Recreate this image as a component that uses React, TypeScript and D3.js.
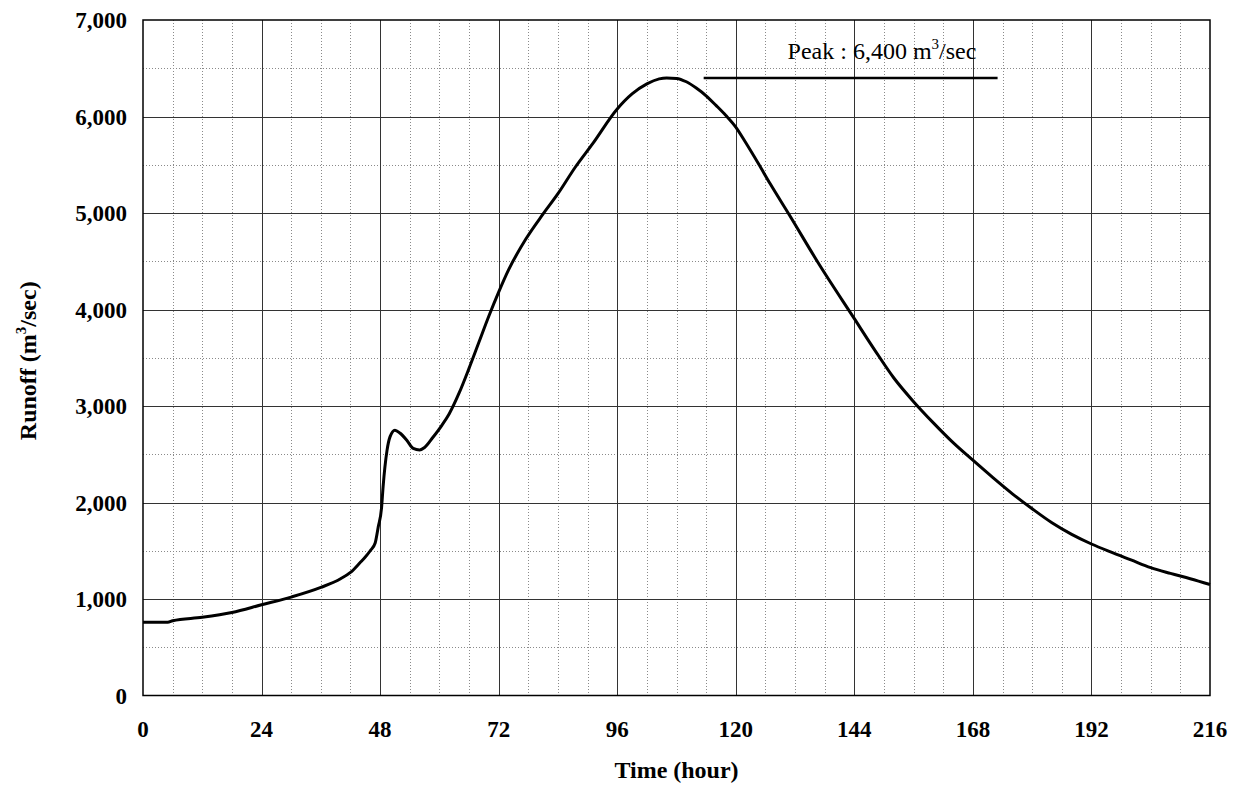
import React from 'react';
import * as d3 from 'd3';

// hydrograph (hour, m3/sec)
const hours = [0, 5, 6, 12, 18, 24, 30, 36, 40, 42, 44, 45, 46, 47, 47.6, 48.3, 48.6, 49.4, 50, 51, 52, 53.4, 54.7, 56, 57, 58.7, 60.5, 62, 64, 66, 68, 70, 72, 74, 77.5, 81, 84, 87.5, 91, 96, 99, 102, 104.5, 106, 108, 110, 112, 114, 116, 118, 120, 122, 124.6, 127, 130.7, 136.8, 144, 148, 152, 156, 160, 164, 168, 172, 176, 180, 184, 188, 192, 196, 200, 204, 208, 212, 216];
const runoff = [760, 760, 775, 810, 860, 940, 1020, 1120, 1210, 1275, 1380, 1435, 1500, 1580, 1740, 1950, 2160, 2540, 2680, 2750, 2720, 2645, 2560, 2545, 2570, 2676, 2800, 2920, 3135, 3390, 3660, 3930, 4180, 4410, 4730, 4990, 5200, 5474, 5716, 6078, 6234, 6338, 6390, 6400, 6395, 6360, 6295, 6215, 6115, 6010, 5890, 5730, 5510, 5300, 4992, 4474, 3905, 3590, 3290, 3045, 2825, 2620, 2438, 2260, 2090, 1935, 1790, 1670, 1570, 1485, 1405, 1325, 1265, 1210, 1150];

const xTicks = [0, 24, 48, 72, 96, 120, 144, 168, 192, 216];
const yTicks = [0, 1000, 2000, 3000, 4000, 5000, 6000, 7000];
const xMinor = d3.range(6, 216, 6).filter(h => h % 24 !== 0);
const yMinor = d3.range(500, 7000, 1000);

const peakValue = 6400;
const peakLine = [113.5, 173];

const W = 1236;
const H = 785;
const left = 143;
const right = 1210;
const top = 20;
const bottom = 695.5;

const font = "'Liberation Serif', 'Times New Roman', serif";

export default function App() {
  const x = d3.scaleLinear().domain([0, 216]).range([left, right]);
  const y = d3.scaleLinear().domain([0, 7000]).range([bottom, top]);

  const data = hours.map((h, i) => ({ h, v: runoff[i] }));
  const line = d3.line<{ h: number; v: number }>()
    .x(d => x(d.h))
    .y(d => y(d.v))
    .curve(d3.curveMonotoneX);

  const fmt = d3.format(',');

  return (
    <svg width={W} height={H} style={{ position: 'absolute', left: 0, top: 0, background: '#fff' }}
      fontFamily={font}>
      {/* minor grid */}
      <g stroke="#8a8a8a" strokeWidth={1} strokeDasharray="1,2" shapeRendering="crispEdges">
        {xMinor.map(h => (
          <line key={'xm' + h} x1={Math.round(x(h)) + 0.5} x2={Math.round(x(h)) + 0.5} y1={top} y2={bottom} />
        ))}
        {yMinor.map(v => (
          <line key={'ym' + v} x1={left} x2={right} y1={Math.round(y(v)) + 0.5} y2={Math.round(y(v)) + 0.5} />
        ))}
      </g>
      {/* major grid */}
      <g stroke="#333" strokeWidth={1} shapeRendering="crispEdges">
        {xTicks.slice(1, -1).map(h => (
          <line key={'xg' + h} x1={Math.round(x(h)) + 0.5} x2={Math.round(x(h)) + 0.5} y1={top} y2={bottom} />
        ))}
        {yTicks.slice(1, -1).map(v => (
          <line key={'yg' + v} x1={left} x2={right} y1={Math.round(y(v)) + 0.5} y2={Math.round(y(v)) + 0.5} />
        ))}
      </g>
      {/* frame */}
      <rect x={left} y={top} width={right - left} height={bottom - top} fill="none" stroke="#000" strokeWidth={1.5} />

      {/* hydrograph */}
      <path d={line(data) || ''} fill="none" stroke="#000" strokeWidth={3} strokeLinejoin="round" />

      {/* peak marker */}
      <line x1={x(peakLine[0])} x2={x(peakLine[1])} y1={y(peakValue)} y2={y(peakValue)} stroke="#000" strokeWidth={2.5} />
      <text x={882} y={59} textAnchor="middle" fontSize={24}>
        Peak : {fmt(peakValue)} m<tspan fontSize={15} dy={-10}>3</tspan><tspan dy={10}>/sec</tspan>
      </text>

      {/* axis labels */}
      <g fontWeight="bold">
        {yTicks.map(v => (
          <text key={'yl' + v} x={127} y={y(v) + 8} textAnchor="end" fontSize={23}>{fmt(v)}</text>
        ))}
        {xTicks.map(h => (
          <text key={'xl' + h} x={x(h)} y={737} textAnchor="middle" fontSize={23}>{h}</text>
        ))}
        <text x={(left + right) / 2} y={778} textAnchor="middle" fontSize={24}>Time (hour)</text>
        <text transform={`translate(36,${(top + bottom) / 2 + 3}) rotate(-90)`} textAnchor="middle" fontSize={24}>
          Runoff (m<tspan fontSize={15} dy={-10}>3</tspan><tspan dy={10}>/sec)</tspan>
        </text>
      </g>
    </svg>
  );
}
